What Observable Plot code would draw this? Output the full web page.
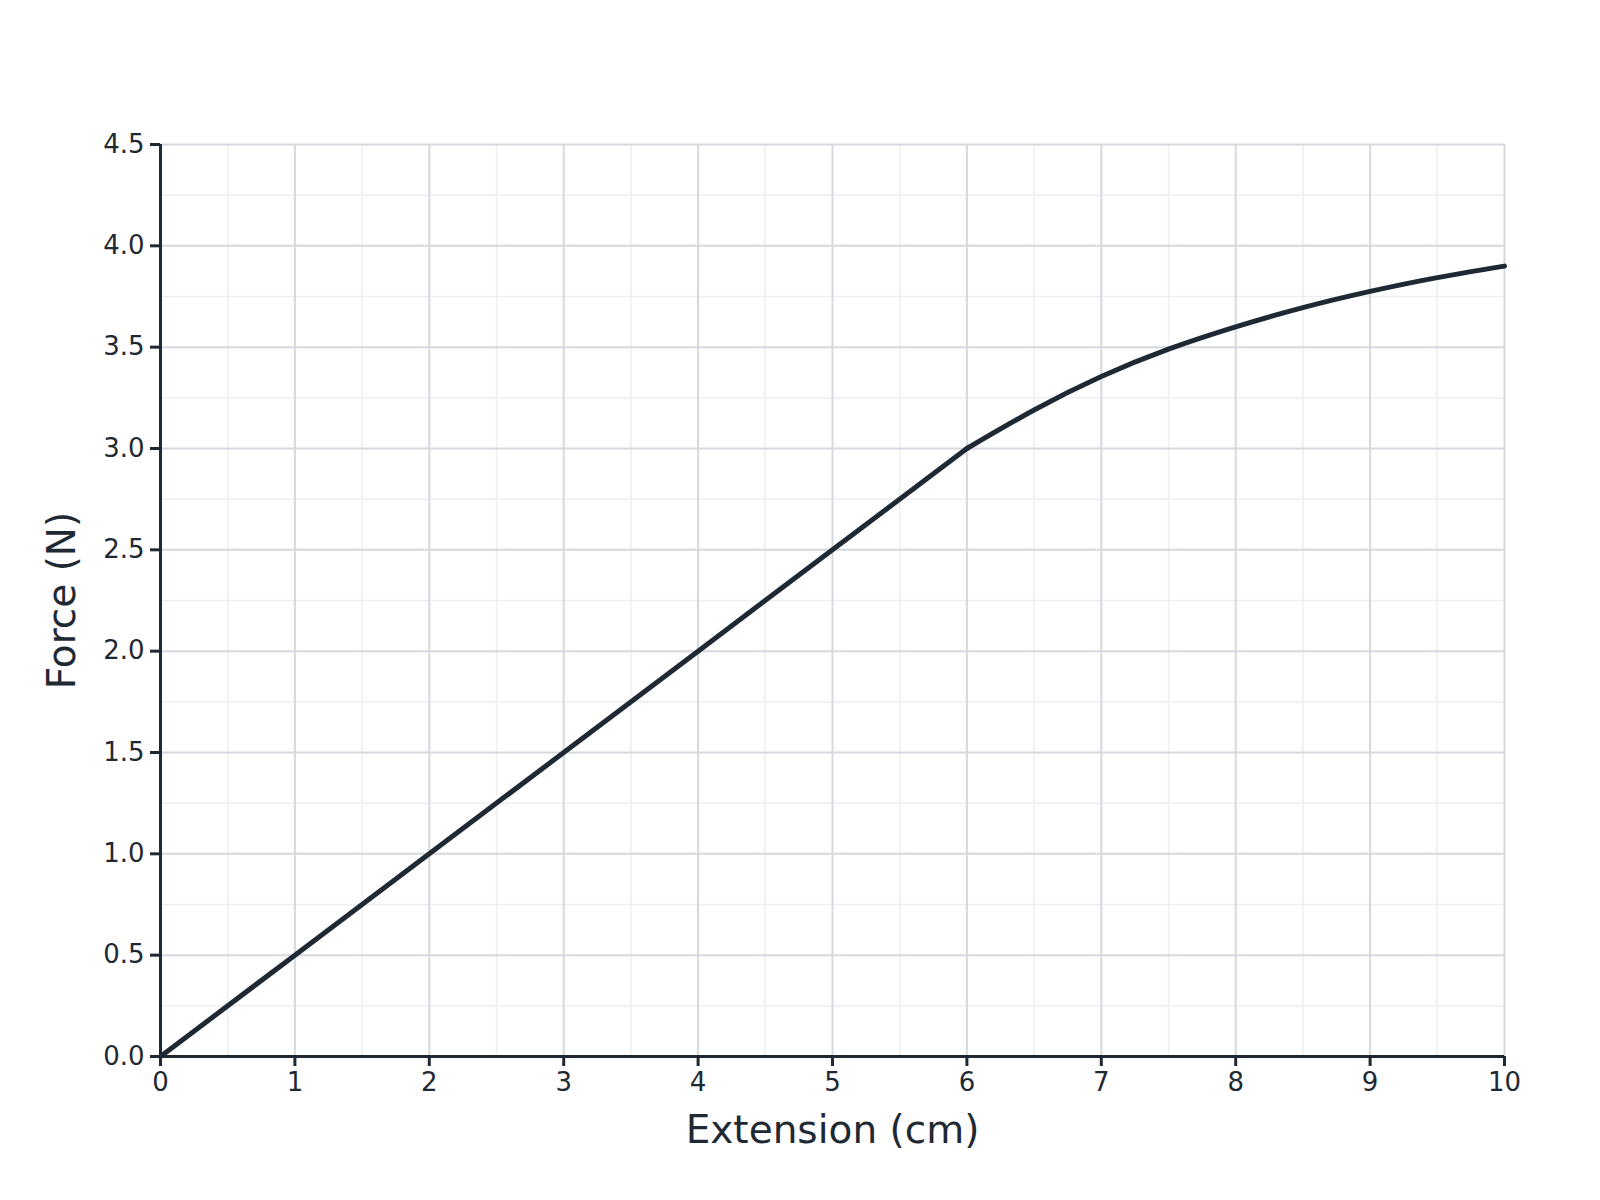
<!DOCTYPE html>
<html><head><meta charset="utf-8">
<script src="https://cdn.jsdelivr.net/npm/d3@7"></script>
<script src="https://cdn.jsdelivr.net/npm/@observablehq/plot@0.6"></script>
<style>body{margin:0;background:#fff}</style>
</head><body><div id="chart"></div>
<script>
const extension = [0, 1, 2, 3, 4, 5, 6, 6.5, 7, 7.5, 8, 8.5, 9, 9.5, 10];
const force = [0, 0.5, 1, 1.5, 2, 2.5, 3, 3.19, 3.355, 3.49, 3.6, 3.695, 3.775, 3.843, 3.9];
const xTicks = [0, 1, 2, 3, 4, 5, 6, 7, 8, 9, 10];
const xMinor = [0.5, 1.5, 2.5, 3.5, 4.5, 5.5, 6.5, 7.5, 8.5, 9.5];
const yTicks = [0, 0.5, 1, 1.5, 2, 2.5, 3, 3.5, 4, 4.5];
const yMinor = [0.25, 0.75, 1.25, 1.75, 2.25, 2.75, 3.25, 3.75, 4.25];
const xLabel = "Extension (cm)";
const yLabel = "Force (N)";

const data = extension.map((x, i) => ({x, y: force[i]}));
const linearPart = data.filter(d => d.x <= 6);
const curvedPart = data.filter(d => d.x >= 6);
const ink = "#1f2933";

const chart = Plot.plot({
  width: 1600, height: 1200,
  marginLeft: 160, marginRight: 96, marginTop: 144, marginBottom: 144,
  style: {fontFamily: "DejaVu Sans", fontSize: "26px", color: ink, background: "#fff"},
  x: {domain: [0, 10]},
  y: {domain: [0, 4.5]},
  marks: [
    Plot.gridX(xMinor, {stroke: "#eceef1", strokeOpacity: 1, strokeWidth: 1.5}),
    Plot.gridY(yMinor, {stroke: "#eceef1", strokeOpacity: 1, strokeWidth: 1.5}),
    Plot.gridX(xTicks, {stroke: "#d5d8df", strokeOpacity: 1, strokeWidth: 2}),
    Plot.gridY(yTicks, {stroke: "#d5d8df", strokeOpacity: 1, strokeWidth: 2}),
    Plot.axisX(xTicks, {tickSize: 10, tickPadding: 6, strokeWidth: 3, stroke: ink, fill: ink,
      label: xLabel, labelAnchor: "center", labelArrow: "none", labelOffset: 86, fontSize: 26,
      tickFormat: d => String(d)}),
    Plot.axisY(yTicks, {tickSize: 10, tickPadding: 6, strokeWidth: 3, stroke: ink, fill: ink,
      label: yLabel, labelAnchor: "center", labelArrow: "none", labelOffset: 113, fontSize: 26,
      tickFormat: d => d.toFixed(1)}),
    Plot.ruleX([0], {stroke: ink, strokeWidth: 3}),
    Plot.ruleY([0], {stroke: ink, strokeWidth: 3}),
    Plot.line(linearPart, {x: "x", y: "y", stroke: ink, strokeWidth: 5, strokeLinejoin: "round"}),
    Plot.line(curvedPart, {x: "x", y: "y", stroke: ink, strokeWidth: 5, curve: "natural"})
  ]
});
chart.querySelectorAll("[aria-label='x-axis label'] text, [aria-label='y-axis label'] text").forEach(t => t.setAttribute("font-size", "39px"));
document.getElementById("chart").appendChild(chart);
</script>
</body></html>
